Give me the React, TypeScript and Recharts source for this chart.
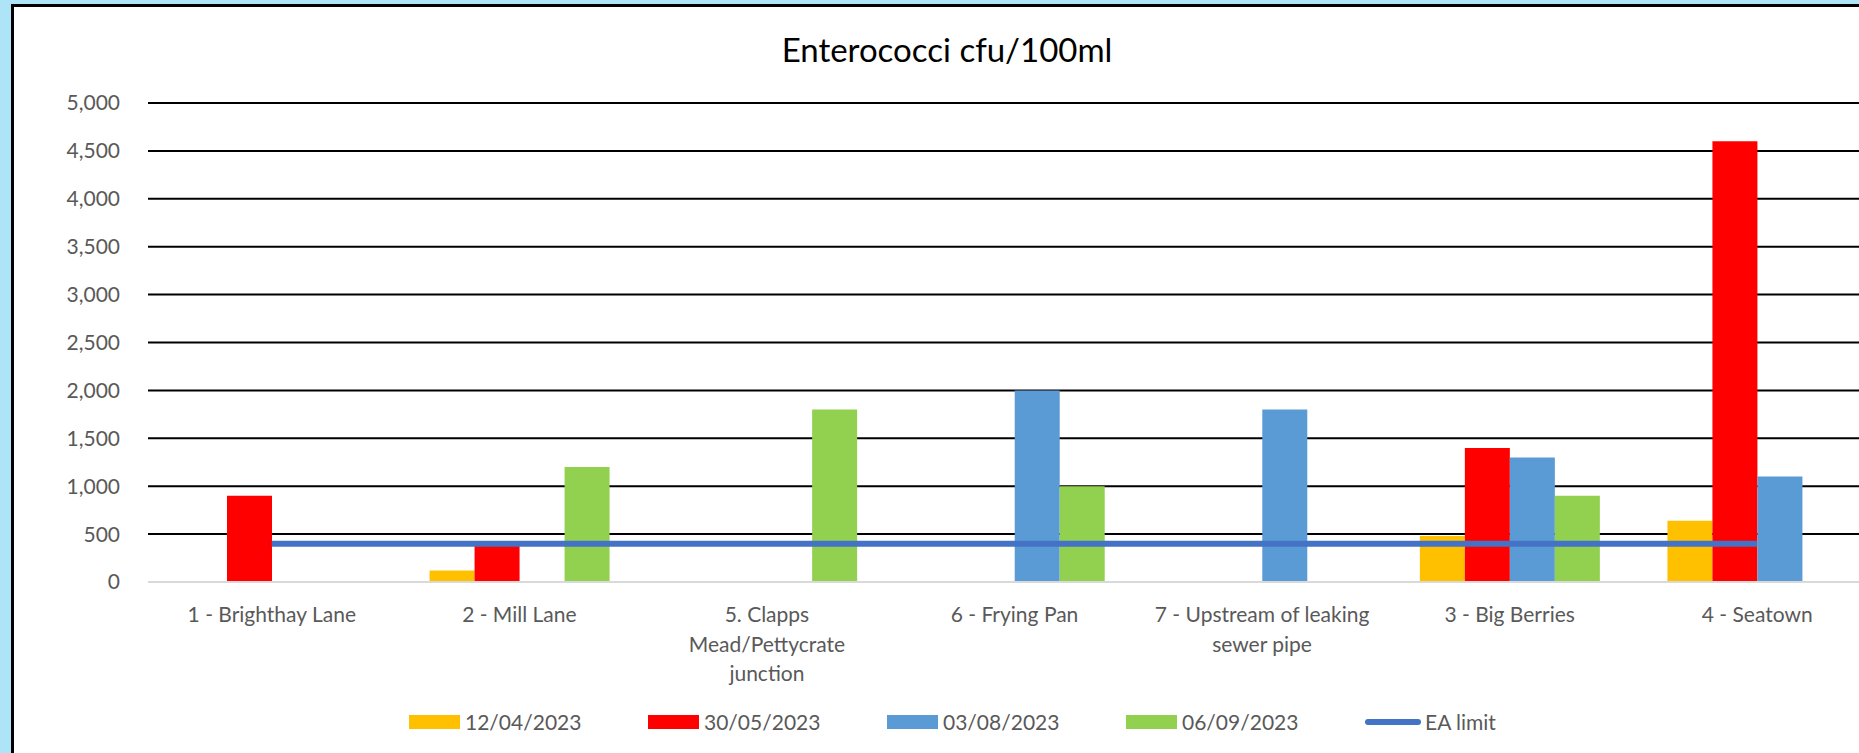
import React from 'react';
import { ComposedChart, Bar, Line, XAxis, YAxis, CartesianGrid } from 'recharts';

// sampling sites, in the order the chart shows them ("\n" = where the label wraps)
const sites = [
  '1 - Brighthay Lane',
  '2 - Mill Lane',
  '5. Clapps\nMead/Pettycrate\njunction',
  '6 - Frying Pan',
  '7 - Upstream of leaking\nsewer pipe',
  '3 - Big Berries',
  '4 - Seatown',
];

// Enterococci cfu/100ml per sampling date (null = no result)
const apr12 = [null, 120, null, null, null, 480, 640];
const may30 = [900, 380, null, null, null, 1400, 4600];
const aug03 = [null, null, null, 2000, 1800, 1300, 1100];
const sep06 = [null, 1200, 1800, 1000, null, 900, null];
const eaLimit = [400, 400, 400, 400, 400, 400, 400];

const yTicks = [0, 500, 1000, 1500, 2000, 2500, 3000, 3500, 4000, 4500, 5000];

const barSeries = [
  { key: 'apr12', name: '12/04/2023', color: '#FFC000' },
  { key: 'may30', name: '30/05/2023', color: '#FF0000' },
  { key: 'aug03', name: '03/08/2023', color: '#5B9BD5' },
  { key: 'sep06', name: '06/09/2023', color: '#92D050' },
];
const limitSeries = { key: 'ea', name: 'EA limit', color: '#4472C4' };

const data = sites.map((site, i) => ({
  site,
  apr12: apr12[i],
  may30: may30[i],
  aug03: aug03[i],
  sep06: sep06[i],
  ea: eaLimit[i],
}));

const font = 'Lato, "Open Sans", sans-serif';
const grey = '#595959';

const SiteTick = (props: any) => {
  const { x, y, payload } = props;
  const lines = String(payload.value).split('\n');
  return (
    <text x={x} y={y} textAnchor="middle" fill={grey} fontSize={21} fontFamily={font}>
      {lines.map((line, i) => (
        <tspan key={i} x={x} dy={i === 0 ? 40 : 29.5}>
          {line}
        </tspan>
      ))}
    </text>
  );
};

const App: React.FC = () => {
  return (
    <div
      style={{
        position: 'fixed',
        left: 0,
        top: 0,
        width: 1859,
        height: 753,
        overflow: 'hidden',
        background: '#AEE4F7',
        fontFamily: font,
      }}
    >
      <div
        style={{
          position: 'absolute',
          left: 11,
          top: 4,
          width: 1900,
          height: 800,
          border: '3px solid #000',
          background: '#fff',
        }}
      />
      <div
        style={{
          position: 'absolute',
          left: 0,
          top: 33,
          width: 1894,
          textAlign: 'center',
          fontSize: 33,
          lineHeight: '33px',
          color: '#000',
        }}
      >
        Enterococci cfu/100ml
      </div>

      <div style={{ position: 'absolute', left: 0, top: 0 }}>
        <ComposedChart
          width={1881}
          height={753}
          data={data}
          margin={{ top: 103, right: 0, bottom: 0, left: 0 }}
          barGap={0}
        >
          <CartesianGrid vertical={false} stroke="#000" strokeWidth={2} />
          <XAxis
            dataKey="site"
            interval={0}
            height={171}
            tickLine={false}
            tickSize={0}
            tickMargin={0}
            axisLine={{ stroke: '#D9D9D9', strokeWidth: 2 }}
            tick={<SiteTick />}
          />
          <YAxis
            width={148}
            domain={[0, 5000]}
            ticks={yTicks}
            axisLine={false}
            tickLine={false}
            tickSize={0}
            tickMargin={28}
            tickFormatter={(v: number) => v.toLocaleString('en-US')}
            tick={{ fill: grey, fontSize: 21, fontFamily: font }}
          />
          {barSeries.map((s) => (
            <Bar
              key={s.key}
              dataKey={s.key}
              name={s.name}
              fill={s.color}
              barSize={45}
              isAnimationActive={false}
            />
          ))}
          <Line
            dataKey={limitSeries.key}
            name={limitSeries.name}
            stroke={limitSeries.color}
            strokeWidth={6}
            dot={false}
            activeDot={false}
            type="linear"
            isAnimationActive={false}
          />
        </ComposedChart>
      </div>

      <div
        style={{
          position: 'absolute',
          left: 409,
          top: 711,
          display: 'flex',
          alignItems: 'center',
          fontSize: 21,
          lineHeight: '21px',
          color: grey,
        }}
      >
        {barSeries.map((s) => (
          <div key={s.key} style={{ width: 239, display: 'flex', alignItems: 'center' }}>
            <span style={{ width: 51, height: 14, background: s.color, marginRight: 5 }} />
            <span>{s.name}</span>
          </div>
        ))}
        <div style={{ display: 'flex', alignItems: 'center' }}>
          <span
            style={{
              width: 56,
              height: 6,
              borderRadius: 3,
              background: limitSeries.color,
              marginRight: 4,
            }}
          />
          <span>{limitSeries.name}</span>
        </div>
      </div>
    </div>
  );
};

export default App;
